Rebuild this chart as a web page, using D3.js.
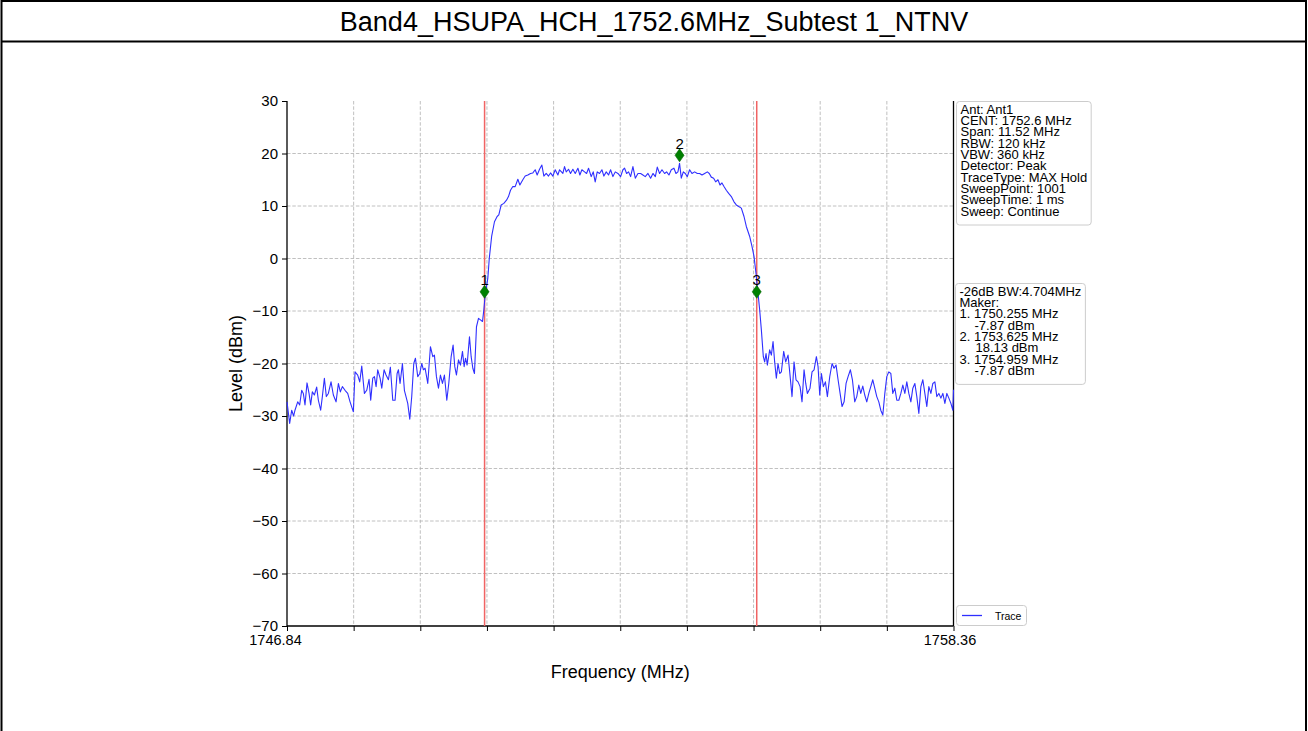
<!DOCTYPE html>
<html>
<head>
<meta charset="utf-8">
<script src="https://cdn.jsdelivr.net/npm/d3@7"></script>
<style>
  body { margin: 0; background: #fff; }
  svg { display: block; }
  text { font-family: "Liberation Sans", Arial, Helvetica, sans-serif; fill: #000; }
</style>
</head>
<body>
<svg id="chart" width="1308" height="731"></svg>
<script>
// ---- data ----
const title = "Band4_HSUPA_HCH_1752.6MHz_Subtest 1_NTNV";
const freqRange = [1746.84, 1758.36];          // MHz, start / stop of the sweep
const levelRange = [-70, 30];                   // dBm
const levelTicks = [-70, -60, -50, -40, -30, -20, -10, 0, 10, 20, 30];
const freqDivisions = 10;                       // graticule divisions across the span
const freqTickLabels = ["1746.84", "1758.36"];  // only start and stop are labelled
const xLabel = "Frequency (MHz)";
const yLabel = "Level (dBm)";

// MAX Hold trace: [frequency MHz, level dBm]
const trace = [
  [1746.840,-27.3],[1746.886,-31.4],[1746.921,-28.9],[1746.955,-30.0],[1746.978,-28.9],
  [1747.025,-27.3],[1747.059,-27.9],[1747.094,-25.1],[1747.122,-25.7],[1747.151,-27.9],
  [1747.186,-23.7],[1747.221,-25.7],[1747.249,-27.9],[1747.278,-25.4],[1747.313,-26.0],
  [1747.353,-24.5],[1747.382,-27.0],[1747.422,-28.9],[1747.451,-26.3],[1747.486,-22.8],
  [1747.520,-26.3],[1747.555,-25.7],[1747.601,-23.5],[1747.641,-26.0],[1747.688,-27.3],
  [1747.728,-23.8],[1747.762,-25.4],[1747.797,-24.4],[1747.843,-25.1],[1747.889,-25.7],
  [1747.930,-27.3],[1747.987,-29.2],[1748.016,-21.6],[1748.062,-22.2],[1748.097,-23.5],
  [1748.132,-20.5],[1748.178,-25.7],[1748.218,-25.1],[1748.258,-23.0],[1748.287,-27.0],
  [1748.322,-22.8],[1748.351,-22.5],[1748.380,-24.4],[1748.408,-21.2],[1748.449,-22.8],
  [1748.478,-24.7],[1748.518,-21.2],[1748.552,-22.2],[1748.593,-23.1],[1748.627,-20.7],
  [1748.668,-27.0],[1748.708,-27.0],[1748.743,-21.9],[1748.766,-21.2],[1748.794,-23.8],
  [1748.835,-20.0],[1748.869,-25.1],[1748.927,-27.6],[1748.962,-30.6],[1748.996,-26.3],
  [1749.031,-20.0],[1749.060,-19.0],[1749.100,-22.5],[1749.135,-21.9],[1749.169,-20.0],
  [1749.198,-21.2],[1749.227,-20.9],[1749.273,-23.8],[1749.319,-16.8],[1749.360,-18.7],
  [1749.388,-18.4],[1749.423,-22.5],[1749.458,-24.7],[1749.492,-22.2],[1749.527,-23.8],
  [1749.561,-22.2],[1749.602,-27.0],[1749.636,-23.8],[1749.677,-18.7],[1749.711,-16.5],
  [1749.740,-20.6],[1749.769,-22.2],[1749.804,-19.3],[1749.838,-20.3],[1749.873,-17.7],
  [1749.902,-20.6],[1749.925,-19.0],[1749.953,-20.3],[1749.994,-14.9],[1750.023,-18.7],
  [1750.052,-20.9],[1750.080,-21.9],[1750.115,-13.0],[1750.150,-11.4],[1750.184,-11.7],
  [1750.219,-12.0],[1750.242,-9.8],[1750.265,-7.0],[1750.311,-3.8],[1750.336,0.0],
  [1750.377,4.2],[1750.426,7.0],[1750.472,8.0],[1750.501,8.3],[1750.542,10.2],
  [1750.588,10.5],[1750.634,11.1],[1750.668,11.8],[1750.703,13.0],[1750.743,13.7],
  [1750.784,13.7],[1750.830,15.1],[1750.865,14.0],[1750.916,15.0],[1750.957,15.7],
  [1751.003,15.9],[1751.049,16.2],[1751.089,16.3],[1751.130,16.9],[1751.164,15.9],
  [1751.205,17.0],[1751.245,17.8],[1751.280,15.7],[1751.320,16.2],[1751.360,15.7],
  [1751.395,16.3],[1751.435,15.7],[1751.476,16.9],[1751.522,15.9],[1751.551,16.9],
  [1751.608,16.2],[1751.637,17.5],[1751.666,16.5],[1751.706,17.0],[1751.741,16.2],
  [1751.781,17.0],[1751.822,16.2],[1751.868,17.2],[1751.902,15.9],[1751.937,16.9],
  [1751.983,16.5],[1752.018,16.2],[1752.052,17.2],[1752.098,15.6],[1752.133,16.5],
  [1752.167,14.6],[1752.202,16.5],[1752.242,16.2],[1752.283,16.9],[1752.317,15.7],
  [1752.358,16.5],[1752.398,15.9],[1752.433,16.9],[1752.473,15.6],[1752.514,16.5],
  [1752.560,16.2],[1752.606,15.6],[1752.646,16.9],[1752.675,17.2],[1752.710,16.2],
  [1752.744,16.5],[1752.779,15.6],[1752.819,17.5],[1752.860,15.3],[1752.906,16.2],
  [1752.952,16.2],[1752.992,15.9],[1753.032,15.6],[1753.079,16.2],[1753.125,15.3],
  [1753.165,16.2],[1753.206,15.6],[1753.240,17.4],[1753.280,16.2],[1753.321,16.9],
  [1753.367,16.2],[1753.401,16.5],[1753.442,15.9],[1753.482,16.9],[1753.528,17.2],
  [1753.563,16.2],[1753.597,16.5],[1753.625,18.13],[1753.655,15.3],[1753.690,16.5],
  [1753.724,16.2],[1753.759,15.6],[1753.799,16.9],[1753.840,16.2],[1753.886,16.5],
  [1753.932,16.2],[1753.972,16.2],[1754.013,15.9],[1754.059,16.2],[1754.105,16.5],
  [1754.139,16.2],[1754.174,15.5],[1754.214,15.3],[1754.249,14.6],[1754.289,15.0],
  [1754.324,14.0],[1754.358,14.4],[1754.393,13.7],[1754.433,13.0],[1754.474,12.4],
  [1754.520,11.8],[1754.566,10.8],[1754.606,10.2],[1754.647,9.9],[1754.693,9.6],
  [1754.739,8.0],[1754.779,6.1],[1754.837,4.2],[1754.877,2.3],[1754.912,0.4],
  [1754.946,-2.8],[1754.981,-6.6],[1755.010,-9.8],[1755.039,-13.6],[1755.073,-18.7],
  [1755.096,-19.7],[1755.120,-18.1],[1755.143,-20.3],[1755.183,-17.4],[1755.212,-18.4],
  [1755.241,-15.8],[1755.269,-19.7],[1755.298,-22.8],[1755.327,-20.0],[1755.356,-21.9],
  [1755.385,-21.6],[1755.425,-17.7],[1755.460,-19.7],[1755.500,-18.4],[1755.529,-21.6],
  [1755.569,-26.3],[1755.604,-19.7],[1755.638,-23.1],[1755.673,-23.5],[1755.708,-24.4],
  [1755.742,-27.3],[1755.777,-21.2],[1755.806,-23.8],[1755.834,-25.7],[1755.880,-24.7],
  [1755.915,-21.6],[1755.950,-21.2],[1755.990,-18.7],[1756.019,-20.6],[1756.048,-26.0],
  [1756.077,-21.9],[1756.111,-24.4],[1756.146,-23.5],[1756.180,-26.3],[1756.221,-22.5],
  [1756.261,-20.0],[1756.296,-20.9],[1756.330,-20.3],[1756.365,-23.1],[1756.400,-25.7],
  [1756.434,-28.2],[1756.469,-27.3],[1756.503,-23.8],[1756.538,-22.5],[1756.578,-21.2],
  [1756.613,-23.1],[1756.653,-27.3],[1756.688,-26.3],[1756.723,-24.1],[1756.757,-25.7],
  [1756.792,-24.3],[1756.826,-26.0],[1756.861,-27.3],[1756.896,-25.7],[1756.930,-24.4],
  [1756.965,-23.1],[1756.999,-24.7],[1757.034,-26.3],[1757.069,-27.3],[1757.103,-28.9],
  [1757.138,-29.8],[1757.173,-25.7],[1757.207,-22.5],[1757.242,-21.6],[1757.277,-21.9],
  [1757.311,-25.7],[1757.346,-24.7],[1757.380,-27.0],[1757.415,-27.0],[1757.450,-25.7],
  [1757.484,-24.1],[1757.519,-25.7],[1757.553,-23.5],[1757.588,-25.7],[1757.623,-27.3],
  [1757.657,-24.7],[1757.692,-23.8],[1757.726,-26.3],[1757.761,-29.5],[1757.796,-24.4],
  [1757.830,-23.1],[1757.865,-25.7],[1757.899,-28.2],[1757.934,-24.4],[1757.969,-25.7],
  [1758.003,-23.8],[1758.038,-23.5],[1758.072,-26.3],[1758.107,-25.7],[1758.142,-26.6],
  [1758.176,-25.7],[1758.211,-27.6],[1758.245,-25.7],[1758.280,-26.6],[1758.315,-27.6],
  [1758.349,-28.9],[1758.360,-25.0]
];

// Markers
const markerNames = ["1", "2", "3"];
const markerFreq  = [1750.255, 1753.625, 1754.959];
const markerLevel = [-7.87, 18.13, -7.87];
const bwEdges     = [1750.255, 1754.959];   // -26 dB bandwidth edges
const bwText      = "-26dB BW:4.704MHz";

const settingsLines = [
  "Ant: Ant1", "CENT: 1752.6 MHz", "Span: 11.52 MHz", "RBW: 120 kHz", "VBW: 360 kHz",
  "Detector: Peak", "TraceType: MAX Hold", "SweepPoint: 1001", "SweepTime: 1 ms", "Sweep: Continue"
];
const legendLabel = "Trace";

// ---- layout ----
const W = 1308, H = 731;
const plot = { left: 287, right: 953.5, top: 101, bottom: 626 };
const markerLift = 8;   // diamond glyph sits just above the marker point

const svg = d3.select("#chart");

// page frame and title band
svg.append("rect").attr("x", 0).attr("y", 0).attr("width", W).attr("height", H).attr("fill", "#fff");
svg.append("line").attr("x1", 1).attr("x2", W - 1).attr("y1", 1).attr("y2", 1).attr("stroke", "#000").attr("stroke-width", 2);
svg.append("line").attr("x1", 1.5).attr("x2", 1.5).attr("y1", 0).attr("y2", H).attr("stroke", "#000").attr("stroke-width", 2);
svg.append("line").attr("x1", W - 2).attr("x2", W - 2).attr("y1", 0).attr("y2", H).attr("stroke", "#000").attr("stroke-width", 2);
svg.append("line").attr("x1", 1).attr("x2", W - 1).attr("y1", 41.5).attr("y2", 41.5).attr("stroke", "#000").attr("stroke-width", 2);
svg.append("text").attr("x", W / 2).attr("y", 31).attr("text-anchor", "middle")
  .attr("font-size", "27px").text(title);

// scales
const x = d3.scaleLinear().domain(freqRange).range([plot.left, plot.right]);
const y = d3.scaleLinear().domain(levelRange).range([plot.bottom, plot.top]);

const step = (freqRange[1] - freqRange[0]) / freqDivisions;
const freqTicks = d3.range(freqDivisions + 1).map(i => freqRange[0] + i * step);

// grid
const grid = svg.append("g").attr("stroke", "#b0b0b0").attr("stroke-width", 0.8)
  .attr("stroke-dasharray", "3.5,1.8").attr("fill", "none");
grid.selectAll(".gx").data(freqTicks.slice(1, -1)).join("line")
  .attr("x1", d => x(d)).attr("x2", d => x(d)).attr("y1", plot.top).attr("y2", plot.bottom);
grid.selectAll(".gy").data(levelTicks.slice(1, -1)).join("line")
  .attr("x1", plot.left).attr("x2", plot.right).attr("y1", d => y(d)).attr("y2", d => y(d));

// axes
const fmtMinus = d => (d < 0 ? "\u2212" + Math.abs(d) : String(d));
const yAxis = d3.axisLeft(y).tickValues(levelTicks).tickSize(5).tickPadding(4).tickFormat(fmtMinus);
const gy = svg.append("g").attr("transform", `translate(${plot.left},0)`).call(yAxis);
gy.select(".domain").remove();
gy.selectAll("line").attr("stroke", "#000").attr("stroke-width", 1);
gy.selectAll("text").attr("font-size", "15px").attr("font-family", null);

const xAxis = d3.axisBottom(x).tickValues(freqTicks).tickSize(5).tickPadding(4)
  .tickFormat((d, i) => i === 0 ? freqTickLabels[0] : (i === freqDivisions ? freqTickLabels[1] : ""));
const gx = svg.append("g").attr("transform", `translate(0,${plot.bottom})`).call(xAxis);
gx.select(".domain").remove();
gx.selectAll("line").attr("stroke", "#000").attr("stroke-width", 1);
// the start/stop labels sit slightly left of their ticks
gx.selectAll("text").attr("font-size", "14.5px").attr("font-family", null)
  .attr("dx", (d, i) => (i === 0 ? -12 : -4));

// spines (left, bottom, right)
const spine = svg.append("g").attr("stroke", "#000").attr("stroke-width", 1.3);
spine.append("line").attr("x1", plot.left).attr("x2", plot.left).attr("y1", plot.top).attr("y2", plot.bottom);
spine.append("line").attr("x1", plot.left).attr("x2", plot.right).attr("y1", plot.bottom).attr("y2", plot.bottom);
spine.append("line").attr("x1", plot.right).attr("x2", plot.right).attr("y1", plot.top).attr("y2", plot.bottom);

// axis titles
svg.append("text").attr("x", (plot.left + plot.right) / 2).attr("y", 678)
  .attr("text-anchor", "middle").attr("font-size", "18px").text(xLabel);
svg.append("text").attr("transform", `translate(242,${(plot.top + plot.bottom) / 2}) rotate(-90)`)
  .attr("text-anchor", "middle").attr("font-size", "18px").text(yLabel);

// bandwidth edge lines
svg.append("g").selectAll("line").data(bwEdges).join("line")
  .attr("x1", d => x(d)).attr("x2", d => x(d)).attr("y1", plot.top).attr("y2", plot.bottom)
  .attr("stroke", "#f06464").attr("stroke-width", 1.5);

// trace
const line = d3.line().x(d => x(d[0])).y(d => y(d[1]));
svg.append("path").datum(trace).attr("d", line)
  .attr("fill", "none").attr("stroke", "#2f2fff").attr("stroke-width", 1.1).attr("stroke-linejoin", "round");

// markers
const markers = markerNames.map((n, i) => ({ name: n, f: markerFreq[i], v: markerLevel[i] }));
const mg = svg.append("g");
mg.selectAll("path").data(markers).join("path")
  .attr("transform", d => `translate(${x(d.f)},${y(d.v) - markerLift})`)
  .attr("d", "M0,-6.5 L4.5,0 L0,6.5 L-4.5,0 Z")
  .attr("fill", "#008000").attr("stroke", "#006400").attr("stroke-width", 0.6);
mg.selectAll("text").data(markers).join("text")
  .attr("x", d => x(d.f)).attr("y", d => y(d.v) - markerLift - 6.5)
  .attr("text-anchor", "middle").attr("font-size", "15px").text(d => d.name);

// info boxes
function infoBox(x0, y0, lines, indents) {
  const g = svg.append("g");
  const box = g.append("rect");
  const lh = 11.3;
  lines.forEach((t, i) => {
    g.append("text").attr("x", x0 + 4 + (indents ? indents[i] : 0)).attr("y", y0 + 12.3 + i * lh)
      .attr("font-size", "13px").text(t);
  });
  const bb = g.node().getBBox();
  box.attr("x", x0).attr("y", y0).attr("width", bb.x + bb.width - x0 + 4)
    .attr("height", 12.3 + (lines.length - 1) * lh + 9.5)
    .attr("rx", 3).attr("fill", "#fff").attr("stroke", "#cccccc").attr("stroke-width", 1);
  return g;
}
infoBox(956.5, 101.5, settingsLines);

const markerLines = [bwText, "Maker:"];
const markerIndent = [0, 0];
markers.forEach(m => {
  markerLines.push(`${m.name}. ${m.f.toFixed(3)} MHz`);
  markerIndent.push(0);
  markerLines.push(`${m.v.toFixed(2)} dBm`);
  markerIndent.push(m.v < 0 ? 15 : 16);
});
infoBox(955.5, 283.5, markerLines, markerIndent);

// legend
const lg = svg.append("g");
lg.append("rect").attr("x", 956.5).attr("y", 605.5).attr("width", 70).attr("height", 20)
  .attr("rx", 3).attr("fill", "#fff").attr("stroke", "#cccccc");
lg.append("line").attr("x1", 962).attr("x2", 982).attr("y1", 615.5).attr("y2", 615.5)
  .attr("stroke", "#2f2fff").attr("stroke-width", 1.3);
lg.append("text").attr("x", 995).attr("y", 619.5).attr("font-size", "10.5px").text(legendLabel);
</script>
</body>
</html>
